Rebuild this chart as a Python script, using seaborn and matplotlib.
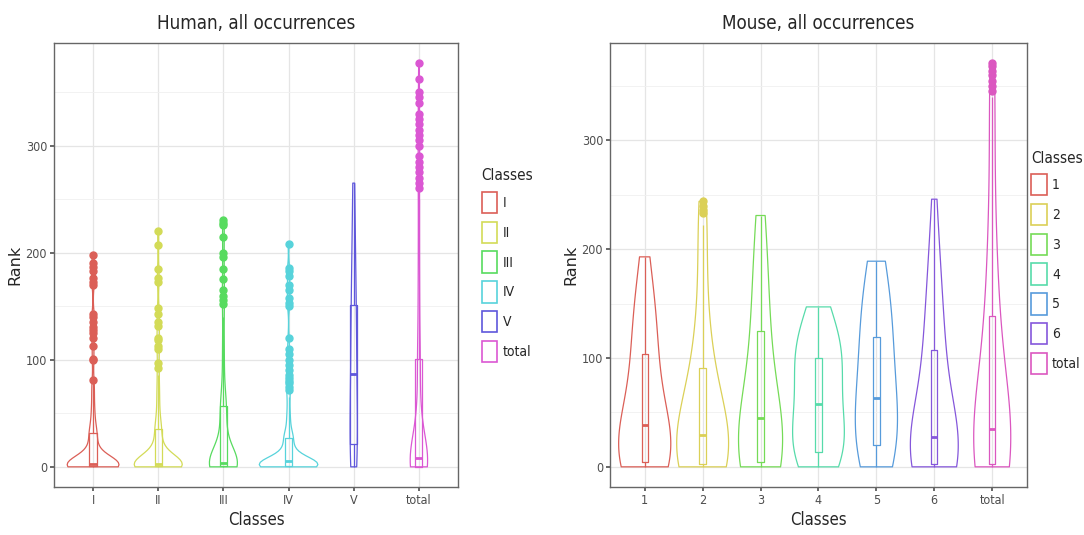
import numpy as np
import pandas as pd
import seaborn as sns
import matplotlib.pyplot as plt
from matplotlib.patches import Patch
from matplotlib.ticker import MultipleLocator

# frequency tables: value -> how many genes at that rank
human_classes = ["I", "II", "III", "IV", "V", "total"]
human_vals = {
    "I": [0, 1, 2, 3, 5, 8, 12, 18, 25, 32, 40, 50, 60, 70, 78,
          81, 100, 101, 113, 120, 125, 128, 131, 135, 140, 143, 170, 173, 176, 183, 187, 190, 198],
    "II": [0, 1, 2, 3, 5, 8, 12, 18, 25, 35, 45, 55, 65, 75, 86,
           92, 97, 110, 113, 118, 120, 132, 135, 143, 148, 173, 176, 185, 207, 220],
    "III": [0, 1, 2, 4, 6, 10, 15, 22, 30, 40, 50, 57, 70, 85, 100, 115, 130, 140,
            152, 156, 160, 165, 175, 185, 196, 200, 215, 226, 228, 231],
    "IV": [0, 1, 2, 3, 5, 8, 12, 18, 27, 35, 45, 55, 65,
           72, 75, 78, 80, 83, 86, 90, 95, 100, 105, 110, 120, 150, 153, 158, 165, 170, 178, 183, 186, 208],
    "V": [0, 4, 10, 16, 21, 35, 52, 70, 87, 100, 118, 135, 151, 170, 195, 225, 265],
    "total": [0, 2, 5, 8, 12, 18, 25, 35, 45, 60, 80, 101, 120, 140, 160, 180, 200, 220, 240, 250,
              260, 265, 270, 275, 280, 285, 290, 300, 305, 310, 315, 320, 325, 330, 340, 345, 350, 362, 377],
}
human_counts = {
    "I": [30, 15, 15, 6, 6, 5, 5, 4, 4, 6, 3, 3, 2, 2, 1] + [1] * 18,
    "II": [28, 14, 12, 8, 6, 5, 5, 4, 4, 6, 3, 2, 2, 2, 1] + [1] * 15,
    "III": [22, 13, 12, 11, 4, 4, 4, 4, 4, 4, 3, 7, 3, 2, 2, 2, 1, 1] + [1] * 12,
    "IV": [25, 15, 12, 10, 7, 6, 6, 5, 8, 3, 3, 2, 2] + [1] * 21,
    "V": [1] * 17,
    "total": [55, 20, 12, 15, 8, 7, 7, 7, 7, 6, 6, 10, 4, 4, 4, 3, 3, 3, 2, 1] + [1] * 19,
}

mouse_classes = ["1", "2", "3", "4", "5", "6", "total"]
mouse_vals = {
    "1": [0, 4, 10, 18, 25, 38, 50, 65, 80, 95, 104, 120, 135, 150, 165, 180, 193],
    "2": [0, 3, 8, 15, 22, 29, 40, 55, 70, 80, 91, 110, 130, 150, 170, 190, 205, 222, 233, 236, 240, 244],
    "3": [0, 4, 10, 18, 28, 38, 45, 60, 75, 90, 105, 125, 140, 160, 180, 200, 215, 231],
    "4": [0, 5, 14, 22, 30, 40, 50, 58, 70, 80, 90, 100, 110, 120, 130, 140, 147],
    "5": [0, 8, 20, 30, 40, 52, 63, 75, 90, 105, 119, 135, 150, 163, 175, 189],
    "6": [0, 3, 10, 18, 27, 40, 55, 70, 85, 95, 107, 125, 145, 165, 185, 205, 225, 246],
    "total": [0, 3, 10, 18, 27, 35, 50, 65, 80, 95, 110, 125, 139, 160, 180, 200, 220, 245, 270, 295, 320, 340,
              345, 350, 355, 360, 364, 368, 371],
}
mouse_counts = {
    "1": [7, 12, 4, 4, 4, 5, 4, 3, 3, 2, 4, 3, 3, 3, 2, 2, 1],
    "2": [8, 10, 6, 5, 4, 5, 4, 4, 3, 2, 4, 2, 2, 2, 1, 1, 1, 1, 1, 1, 1, 1],
    "3": [7, 10, 5, 4, 3, 1, 6, 3, 3, 2, 1, 5, 2, 2, 2, 2, 2, 2],
    "4": [2, 4, 8, 4, 2, 2, 2, 4, 2, 2, 3, 5, 4, 4, 2, 2, 1],
    "5": [3, 4, 5, 3, 3, 2, 3, 2, 2, 3, 4, 2, 2, 3, 2, 2],
    "6": [8, 10, 7, 6, 5, 4, 2, 2, 2, 2, 4, 3, 3, 2, 2, 2, 1, 1],
    "total": [12, 19, 10, 9, 8, 7, 6, 5, 5, 4, 3, 1, 7, 3, 3, 3, 2, 2, 2, 1, 1, 1] + [1] * 7,
}


def to_frame(classes, vals, counts):
    parts = []
    for c in classes:
        r = np.repeat(vals[c], counts[c])
        parts.append(pd.DataFrame({"Classes": c, "Rank": r}))
    return pd.concat(parts, ignore_index=True)


# R's bw.nrd0, as ggplot's geom_violin uses it
def nrd0(kde):
    x = kde.dataset[0]
    sd = np.std(x, ddof=1)
    q1, q3 = np.percentile(x, [25, 75])
    lo = min(sd, (q3 - q1) / 1.34)
    if lo <= 0:
        lo = sd
    return 0.9 * lo * len(x) ** -0.2 / sd


sns.set_theme(style="white")
plt.rcParams["font.family"] = ["DejaVu Sans"]
plt.rcParams["font.stretch"] = "condensed"

fig = plt.figure(figsize=(10.84, 5.35), dpi=100)
ax1 = fig.add_axes([0.0498, 0.0897, 0.3727, 0.8299])
ax2 = fig.add_axes([0.5627, 0.0897, 0.3847, 0.8299])


def panel(ax, df, classes, title, ymax, leg_xy, bw_adj):
    pal = sns.color_palette("hls", len(classes))
    sns.violinplot(data=df, x="Classes", y="Rank", hue="Classes", order=classes, hue_order=classes,
                   palette=pal, fill=False, inner=None, cut=0, density_norm="area", common_norm=True,
                   width=0.9, linewidth=0.9, bw_method=nrd0, bw_adjust=bw_adj, legend=False, ax=ax)
    sns.boxplot(data=df, x="Classes", y="Rank", hue="Classes", order=classes, hue_order=classes,
                palette=pal, fill=False, width=0.11, linewidth=0.9, whis=1.5, legend=False,
                capprops={"linewidth": 0}, medianprops={"linewidth": 2},
                flierprops={"marker": "o", "markersize": 5}, ax=ax)
    for ln in ax.lines:
        if ln.get_marker() == "o":
            ln.set_markerfacecolor(ln.get_markeredgecolor())

    n = len(classes)
    ax.set_xlim(-0.6, n - 0.4)
    ax.set_ylim(-0.05 * ymax, 1.05 * ymax)
    ax.yaxis.set_major_locator(MultipleLocator(100))
    ax.yaxis.set_minor_locator(MultipleLocator(50))
    ax.grid(True, which="major", color="#E5E5E5", linewidth=0.9)
    ax.grid(True, which="minor", axis="y", color="#F0F0F0", linewidth=0.6)
    ax.set_axisbelow(True)
    for s in ax.spines.values():
        s.set_color("#666666")
        s.set_linewidth(1.0)
    ax.tick_params(axis="both", which="major", length=3, color="#555555", labelcolor="#4D4D4D",
                   labelsize=9, bottom=True, left=True, pad=2)
    ax.set_title(title, fontsize=13.5, pad=10)
    ax.set_xlabel("Classes", fontsize=12, labelpad=3)
    ax.set_ylabel("Rank", fontsize=11.5, fontstretch="normal", labelpad=2)

    handles = [Patch(facecolor="white", edgecolor=c, linewidth=1.2) for c in pal]
    leg = ax.legend(handles, classes, title="Classes", loc="upper left", bbox_to_anchor=leg_xy,
                    frameon=False, handlelength=1.1, handleheight=2.0, handletextpad=0.4,
                    labelspacing=0.6, fontsize=10, title_fontsize=11, borderaxespad=0)
    leg._legend_box.align = "left"


human_df = to_frame(human_classes, human_vals, human_counts)
mouse_df = to_frame(mouse_classes, mouse_vals, mouse_counts)

panel(ax1, human_df, human_classes, "Human, all occurrences", 377, (1.045, 0.73), 1.0)
panel(ax2, mouse_df, mouse_classes, "Mouse, all occurrences", 371, (0.997, 0.77), 1.7)

fig.savefig("out.png", dpi=100)
